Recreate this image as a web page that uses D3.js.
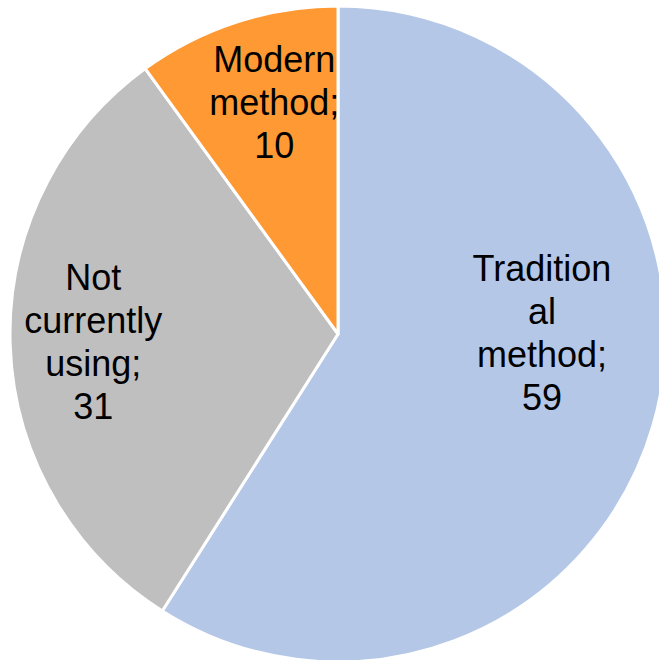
<!DOCTYPE html>
<html>
<head>
<meta charset="utf-8">
<script src="https://cdn.jsdelivr.net/npm/d3@7/dist/d3.min.js"></script>
<style>
html,body{margin:0;padding:0;background:#fff;}
svg{display:block;}
</style>
</head>
<body>
<svg id="chart" width="659" height="660"></svg>
<script>
// Data
const categories = ["Traditional method", "Not currently using", "Modern method"];
const values = [59, 31, 10];
const labelLines = [["Tradition", "al", "method;", "59"], ["Not", "currently", "using;", "31"], ["Modern", "method;", "10"]];
const colors = ["#B4C7E7", "#BFBFBF", "#FF9933"];

// Layout
const W = 659, H = 660;
const cx = 338, cy = 334, R = 328;
const labelOffsets = [[15, -56], [-48, 1], [-3, -45]];
const lineH = 43;

const svg = d3.select("#chart");
const g = svg.append("g").attr("transform", `translate(${cx},${cy})`);

const data = categories.map((c, i) => ({ name: c, value: values[i], lines: labelLines[i], color: colors[i], off: labelOffsets[i] }));

const pie = d3.pie().value(d => d.value).sort(null).startAngle(0).endAngle(2 * Math.PI);
const arc = d3.arc().innerRadius(0).outerRadius(R);
const labelArc = d3.arc().innerRadius(R * 0.6).outerRadius(R * 0.6);
const arcs = pie(data);

g.selectAll("path.slice").data(arcs).join("path")
  .attr("class", "slice")
  .attr("d", arc)
  .attr("fill", d => d.data.color)
  .attr("stroke", "#fff")
  .attr("stroke-width", 3)
  .attr("stroke-linejoin", "round");

const labels = g.selectAll("text.lbl").data(arcs).join("text")
  .attr("class", "lbl")
  .attr("text-anchor", "middle")
  .attr("font-family", "Liberation Sans, Arial, sans-serif")
  .attr("font-size", 36)
  .attr("fill", "#000")
  .each(function (d) {
    const c = labelArc.centroid(d);
    const x = c[0] + d.data.off[0];
    const y = c[1] + d.data.off[1];
    const n = d.data.lines.length;
    const first = y - (n - 1) * lineH / 2 + 13;
    d3.select(this).selectAll("tspan").data(d.data.lines).join("tspan")
      .attr("x", x)
      .attr("y", (t, i) => first + i * lineH)
      .text(t => t);
  });
</script>
</body>
</html>
